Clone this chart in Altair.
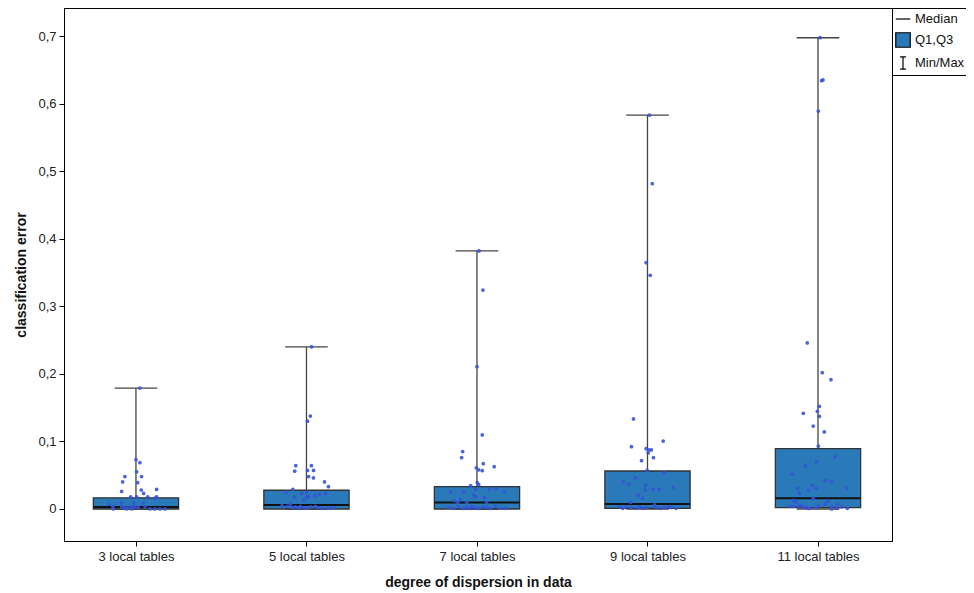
import altair as alt
import pandas as pd

# ---- data ----
categories = ["3 local tables", "5 local tables", "7 local tables", "9 local tables", "11 local tables"]

stat_min = [0.0, 0.0, 0.0, 0.0, 0.0]
stat_q1 = [0.0, 0.0, 0.0, 0.001, 0.002]
stat_median = [0.003, 0.006, 0.0095, 0.0074, 0.0158]
stat_q3 = [0.0165, 0.0277, 0.033, 0.0562, 0.0892]
stat_max = [0.179, 0.240, 0.382, 0.583, 0.6975]

# individual classification errors per category, with their horizontal jitter (category units)
err_3 = [0.179, 0.073, 0.0685, 0.055, 0.048, 0.048, 0.040, 0.039, 0.026, 0.028, 0.023, 0.029,
         0.018, 0.016, 0.018, 0.018, 0.018, 0.009, 0.009, 0.009, 0.007, 0.003, 0.003, 0.002,
         0.002, 0.003, 0.003, 0.002, 0.0, 0.0, 0.0, 0.0, 0.0, 0.0, 0.0, 0.003]
jit_3 = [0.023, 0.0, 0.023, 0.004, -0.065, 0.033, -0.078, 0.01, -0.084, 0.031, 0.045, 0.121,
         0.069, 0.111, 0.121, -0.031, 0.004, -0.084, 0.043, -0.012, -0.157, -0.135, -0.084, -0.065,
         -0.045, -0.025, -0.006, 0.013, -0.133, -0.055, -0.025, 0.082, 0.111, 0.141, 0.170, 0.053]

err_5 = [0.240, 0.1376, 0.130, 0.064, 0.064, 0.056, 0.057, 0.057, 0.048, 0.046, 0.040, 0.033,
         0.029, 0.025, 0.023, 0.025, 0.023, 0.022, 0.020, 0.018, 0.018, 0.018, 0.013,
         0.005, 0.004, 0.007, 0.002, 0.003, 0.001, 0.004, 0.002, 0.001, 0.003, 0.004, 0.002,
         0.001, 0.001, 0.001, 0.002]
jit_5 = [0.03, 0.023, 0.006, -0.063, 0.029, -0.069, 0.006, 0.041, 0.013, 0.041, 0.106, 0.129,
         -0.080, -0.121, -0.028, 0.002, 0.111, 0.076, 0.049, -0.069, 0.0, 0.013, -0.016,
         -0.143, -0.113, -0.094, -0.084, -0.065, -0.045, -0.035, -0.016, 0.004, 0.023, 0.053, 0.072,
         0.092, 0.122, 0.141, 0.160]

err_7 = [0.382, 0.324, 0.2106, 0.1095, 0.085, 0.076, 0.067, 0.0626, 0.061, 0.058, 0.0567, 0.039,
         0.036, 0.0345, 0.0286, 0.030, 0.0286, 0.0256, 0.0256, 0.0256, 0.021, 0.018, 0.0167, 0.0138,
         0.0123, 0.0093, 0.0093, 0.0093,
         0.002, 0.001, 0.003, 0.001, 0.002, 0.001, 0.004, 0.002, 0.001, 0.001, 0.003, 0.002,
         0.001, 0.004, 0.001, 0.001]
jit_7 = [0.012, 0.035, 0.0, 0.031, -0.084, -0.09, 0.037, 0.101, -0.004, 0.01, 0.031, 0.002,
         0.01, -0.037, -0.008, 0.113, 0.072, 0.16, -0.154, -0.078, -0.019, -0.008, 0.043, -0.096,
         -0.131, -0.113, -0.06, 0.057,
         -0.168, -0.135, -0.11, -0.08, -0.06, -0.045, -0.031, -0.016, 0.002, 0.013, 0.037, 0.057,
         0.08, 0.11, 0.139, 0.17]

err_9 = [0.583, 0.4815, 0.3646, 0.3458, 0.1332, 0.1006, 0.0922, 0.0893, 0.0873, 0.0873, 0.0829,
         0.076, 0.0715, 0.057, 0.0537, 0.0463, 0.0404, 0.0365, 0.035, 0.032, 0.029, 0.029, 0.0277,
         0.020, 0.0158, 0.0099,
         0.003, 0.001, 0.003, 0.002, 0.001, 0.003, 0.001, 0.002, 0.006, 0.002, 0.001, 0.002,
         0.003, 0.002, 0.001]
jit_9 = [0.012, 0.028, -0.008, 0.016, -0.082, 0.092, -0.094, -0.008, 0.008, 0.023, 0.004,
         0.035, -0.035, -0.002, 0.098, -0.07, -0.141, -0.111, -0.012, 0.151, 0.035, 0.07, -0.012,
         -0.053, -0.029, -0.1,
         -0.164, -0.145, -0.125, -0.096, -0.066, -0.047, -0.028, -0.004, 0.041, 0.051, 0.08, 0.1,
         0.119, 0.139, 0.168]

err_11 = [0.6975, 0.635, 0.634, 0.589, 0.2457, 0.2017, 0.1914, 0.152, 0.1446, 0.1416, 0.1372,
          0.1228, 0.114, 0.0932, 0.0774, 0.070, 0.064, 0.0513, 0.0419, 0.0404, 0.035, 0.0306,
          0.0306, 0.0277, 0.0306, 0.0232, 0.0158, 0.0129, 0.0099, 0.0114, 0.007, 0.007, 0.0055,
          0.004, 0.004, 0.004, 0.002, 0.001, 0.002, 0.004, 0.004, 0.001, 0.003, 0.001, 0.001,
          0.0, 0.003]
jit_11 = [0.012, 0.029, 0.021, 0.002, -0.063, 0.025, 0.076, 0.008, -0.004, -0.086, 0.008,
          -0.028, 0.037, 0.002, 0.101, -0.01, -0.074, -0.151, 0.043, 0.078, -0.033, -0.121,
          -0.01, -0.057, 0.17, -0.11, -0.028, -0.145, -0.127, 0.055, 0.041, 0.113, -0.101,
          -0.168, -0.145, -0.116, -0.066, -0.047, -0.012, 0.002, 0.08, 0.11, 0.139, 0.172,
          -0.057, 0.08, -0.09]

legend_items = ["Median", "Q1,Q3", "Min/Max"]

# ---- tables ----
stats = pd.DataFrame({
    "idx": list(range(1, len(categories) + 1)),
    "category": categories,
    "mn": stat_min, "q1": stat_q1, "med": stat_median, "q3": stat_q3, "mx": stat_max,
})

rows = []
for i, (errs, jits) in enumerate([(err_3, jit_3), (err_5, jit_5), (err_7, jit_7),
                                  (err_9, jit_9), (err_11, jit_11)]):
    for e, j in zip(errs, jits):
        rows.append({"idx": i + 1, "jit": j, "err": e})
points = pd.DataFrame(rows)

legend_df = pd.DataFrame({"item": legend_items, "y": [-1.0] * 3, "idx": [3] * 3})

FONT = "Liberation Sans"
BOX = "#2a7ab9"
label_expr = "[" + ",".join("'%s'" % c for c in categories) + "][datum.value - 1]"

xscale = alt.Scale(domain=[0.578, 5.434], nice=False, zero=False)
yscale = alt.Scale(domain=[-0.0474, 0.7415], nice=False, zero=False)

x_axis = alt.Axis(values=[1, 2, 3, 4, 5], labelExpr=label_expr, grid=False,
                  title="degree of dispersion in data", tickSize=5, labelPadding=4,
                  titlePadding=12)
y_axis = alt.Axis(values=[0, 0.1, 0.2, 0.3, 0.4, 0.5, 0.6, 0.7], grid=False,
                  labelExpr="datum.value == 0 ? '0' : replace(format(datum.value, '.1f'), '.', ',')",
                  title="classification error", tickSize=5, labelPadding=3, titlePadding=9)

base = alt.Chart(stats)

whisker = base.mark_rule(color="#444", strokeWidth=1.3).encode(
    x=alt.X("idx:Q", scale=xscale, axis=x_axis),
    y=alt.Y("mn:Q", scale=yscale, axis=y_axis),
    y2="mx:Q",
)

cap_max = base.transform_calculate(a="datum.idx - 0.125", b="datum.idx + 0.125").mark_rule(
    color="#444", strokeWidth=1.3).encode(x="a:Q", x2="b:Q", y="mx:Q")
cap_min = base.transform_calculate(a="datum.idx - 0.125", b="datum.idx + 0.125").mark_rule(
    color="#444", strokeWidth=1.3).encode(x="a:Q", x2="b:Q", y="mn:Q")

box = base.transform_calculate(a="datum.idx - 0.25", b="datum.idx + 0.25").mark_rect(
    fill=BOX, stroke="#333", strokeWidth=1.3).encode(x="a:Q", x2="b:Q", y="q1:Q", y2="q3:Q")

median = base.transform_calculate(a="datum.idx - 0.25", b="datum.idx + 0.25").mark_rule(
    color="#111", strokeWidth=2).encode(x="a:Q", x2="b:Q", y="med:Q")

dots = alt.Chart(points).transform_calculate(xp="datum.idx + datum.jit").mark_circle(
    size=14, color="#3553d8", opacity=0.9).encode(x="xp:Q", y="err:Q")

legend_layer = alt.Chart(legend_df).mark_point(
    filled=True, stroke="black", strokeWidth=1.2, opacity=1, clip=True).encode(
    x="idx:Q", y="y:Q",
    fill=alt.Fill("item:N", scale=alt.Scale(domain=legend_items, range=["black", BOX, "black"]),
                  legend=alt.Legend(title=None, orient="none", legendX=828, legendY=0,
                                    strokeColor="black", fillColor="white", padding=3,
                                    symbolSize=210, rowPadding=4, labelOffset=4,
                                    labelFontSize=13, labelFont=FONT, labelColor="#111",
                                    symbolStrokeWidth=1.2, symbolOpacity=1)),
    shape=alt.Shape("item:N", scale=alt.Scale(
        domain=legend_items,
        range=["M-1,0H1", "square", "M-0.4,-0.85H0.4M0,-0.85V0.85M-0.4,0.85H0.4"]),
        legend=alt.Legend(title=None, orient="none", legendX=828, legendY=0)),
)

chart = alt.layer(whisker, cap_max, cap_min, box, median, dots, legend_layer).properties(
    width=828, height=533,
    autosize=alt.AutoSizeParams(type="none"),
    padding={"left": 56, "top": 0, "right": 74, "bottom": 52},
).configure_view(stroke="black", strokeWidth=1).configure_axis(
    domainColor="black", tickColor="black", labelFont=FONT, titleFont=FONT,
    labelFontSize=13, titleFontSize=14, titleFontWeight="bold", labelColor="#222",
    titleColor="#111", domainWidth=1, tickWidth=1,
)

chart.save("out.html", embed_options={"renderer": "svg", "actions": False})
